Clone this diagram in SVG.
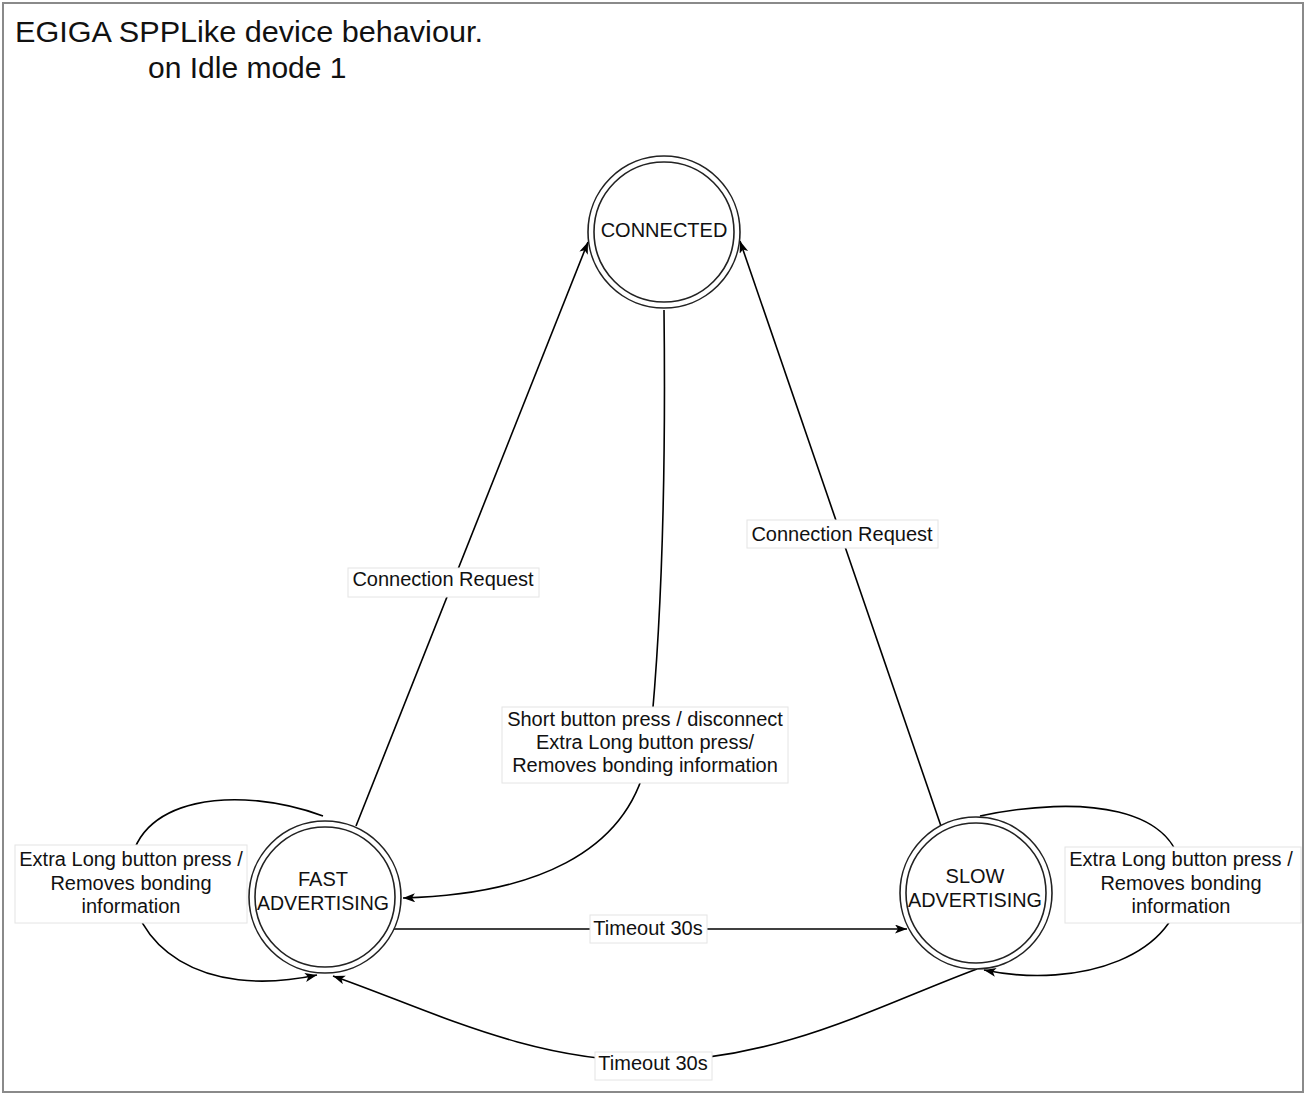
<svg xmlns="http://www.w3.org/2000/svg" width="1306" height="1095" viewBox="0 0 1306 1095">
<defs>
<marker id="arr" markerUnits="userSpaceOnUse" markerWidth="16" markerHeight="12" refX="12" refY="4.5" orient="auto">
<path d="M0,0 L12,4.5 L0,9 L3,4.5 z" fill="#000"/>
</marker>
<style>
.t{font-family:"Liberation Sans",Arial,Helvetica,sans-serif;fill:#111;}
.lbl{font-size:20px;text-anchor:middle;}
.o{fill:#fff;stroke:#222;stroke-width:1.6;}
.i{fill:none;stroke:#222;stroke-width:1.6;}
.e{fill:none;stroke:#000;stroke-width:1.6;marker-end:url(#arr);}
.box{fill:#fff;stroke:#e4e4e4;stroke-width:1;}
</style>
</defs>
<rect x="0" y="0" width="1306" height="1095" fill="#fff"/>
<rect x="3" y="3" width="1300" height="1089" fill="none" stroke="#8a8a8a" stroke-width="2"/>
<g id="title">
<text class="t" x="15" y="42" font-size="30" textLength="468" lengthAdjust="spacingAndGlyphs">EGIGA SPPLike device behaviour.</text>
<text class="t" x="148" y="78" font-size="30">on Idle mode 1</text>
</g>
<g id="connectors">
<path class="e" d="M356,826 L588,242"/>
<path class="e" d="M942,829 L740,241"/>
<path class="e" d="M664,310 C666,480 662,620 650,740 C638,860 520,895 403,898"/>
<path class="e" d="M387,929 L907,929"/>
<path class="e" d="M977,969 C880,1005 780,1060 653,1061 C530,1062 430,1010 333,976"/>
<path class="e" d="M323,816 C240,785 130,795 130,875 C130,945 200,1000 317,975"/>
<path class="e" d="M980,816 C1080,795 1182,805 1182,880 C1182,955 1080,990 984,970"/>
<g id="edge-labels">
<rect class="box" x="348" y="568" width="191" height="29"/>
<text class="t lbl" x="443" y="586">Connection Request</text>
<rect class="box" x="747" y="520" width="191" height="28"/>
<text class="t lbl" x="842" y="541">Connection Request</text>
<rect class="box" x="502" y="707" width="286" height="76"/>
<text class="t lbl" x="645" y="726">Short button press / disconnect</text>
<text class="t lbl" x="645" y="749">Extra Long button press/</text>
<text class="t lbl" x="645" y="772">Removes bonding information</text>
<rect class="box" x="590" y="915" width="117" height="28"/>
<text class="t lbl" x="648" y="935">Timeout 30s</text>
<rect class="box" x="595" y="1052" width="117" height="28"/>
<text class="t lbl" x="653" y="1070">Timeout 30s</text>
<rect class="box" x="15" y="845" width="232" height="78"/>
<text class="t lbl" x="131" y="866">Extra Long button press /</text>
<text class="t lbl" x="131" y="890">Removes bonding</text>
<text class="t lbl" x="131" y="913">information</text>
<rect class="box" x="1065" y="847" width="236" height="76"/>
<text class="t lbl" x="1181" y="866">Extra Long button press /</text>
<text class="t lbl" x="1181" y="890">Removes bonding</text>
<text class="t lbl" x="1181" y="913">information</text>
</g>
</g>
<g id="connected">
<circle class="o" cx="664" cy="232" r="76"/>
<circle class="i" cx="664" cy="232" r="70"/>
<text class="t lbl" x="664" y="237">CONNECTED</text>
</g>
<g id="fast-advertising">
<circle class="o" cx="325" cy="897" r="76"/>
<circle class="i" cx="325" cy="897" r="70"/>
<text class="t lbl" x="323" y="886">FAST</text>
<text class="t lbl" x="323" y="910" textLength="132" lengthAdjust="spacingAndGlyphs">ADVERTISING</text>
</g>
<g id="slow-advertising">
<circle class="o" cx="976" cy="893" r="76"/>
<circle class="i" cx="976" cy="893" r="70"/>
<text class="t lbl" x="975" y="883">SLOW</text>
<text class="t lbl" x="975" y="907" textLength="134" lengthAdjust="spacingAndGlyphs">ADVERTISING</text>
</g>
</svg>
